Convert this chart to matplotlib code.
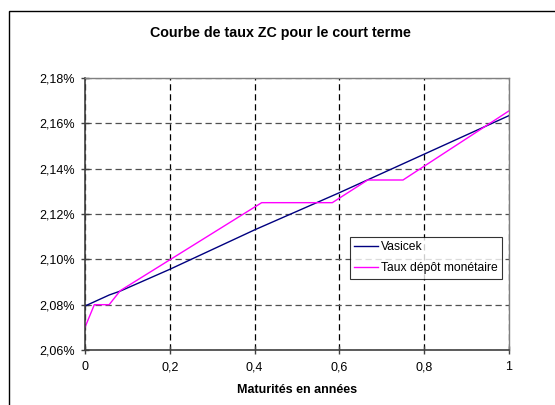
import matplotlib
matplotlib.use("Agg")
import matplotlib.pyplot as plt
from matplotlib.patches import Rectangle
from matplotlib.ticker import FuncFormatter

plt.rcParams['font.family'] = ['Liberation Sans', 'DejaVu Sans']

# Vasicek zero-coupon curve (maturity in years, rate in %)
vasicek_t = [0.0, 0.0575, 0.0833, 0.2, 0.4, 0.6, 0.8, 1.0]
vasicek_r = [2.0794, 2.0843, 2.0860, 2.0956, 2.1130, 2.1294, 2.1464, 2.1634]

# Money-market deposit rates
depot_t = [0.0, 0.022, 0.057, 0.0833, 0.4167, 0.5833, 0.6667, 0.75, 1.0]
depot_r = [2.070, 2.080, 2.080, 2.0862, 2.125, 2.125, 2.135, 2.135, 2.1655]

x_ticks = [0, 0.2, 0.4, 0.6, 0.8, 1]
y_ticks = [2.06, 2.08, 2.10, 2.12, 2.14, 2.16, 2.18]

fig = plt.figure(figsize=(5.55, 4.05), dpi=100)
fig.patch.set_facecolor('white')
fig.patches.append(Rectangle((9 / 555, -0.2), 2.0, 0.2 + 1 - 11 / 405,
                             transform=fig.transFigure, fill=False,
                             edgecolor='black', linewidth=1.0))

ax = fig.add_axes([85 / 555, 55 / 405, 424 / 555, 272 / 405])

ax.plot(vasicek_t, vasicek_r, color='#000080', linewidth=1.0, label='Vasicek')
ax.plot(depot_t, depot_r, color='#FF00FF', linewidth=1.0,
        label='Taux dépôt monétaire')

ax.set_xlim(0, 1)
ax.set_ylim(2.06, 2.18)
ax.set_xticks(x_ticks)
ax.set_yticks(y_ticks)
ax.xaxis.set_major_formatter(FuncFormatter(lambda v, p: f"{v:g}".replace('.', ',')))
ax.yaxis.set_major_formatter(FuncFormatter(lambda v, p: f"{v:.2f}%".replace('.', ',')))
ax.tick_params(direction='inout', length=6, width=1, colors='#404040',
               labelcolor='black', labelsize=9)
ax.tick_params(axis='y', pad=4)
ax.tick_params(axis='x', pad=5)

ax.grid(True, axis='y', color='#505050', linestyle=(0, (5, 3)), linewidth=0.9)
ax.grid(True, axis='x', color='black', linestyle=(0, (5, 3)), linewidth=0.9)
ax.set_axisbelow(True)

for side in ('left', 'bottom'):
    ax.spines[side].set_color('#404040')
    ax.spines[side].set_linewidth(1.2)
for side in ('top', 'right'):
    ax.spines[side].set_color('#808080')
    ax.spines[side].set_linewidth(1.0)

fig.text(280 / 555, 1 - 33 / 405, 'Courbe de taux ZC pour le court terme',
         ha='center', va='center', fontsize=10.3, fontweight='bold')
fig.text(297 / 555, 1 - 390 / 405, 'Maturités en années',
         ha='center', va='center', fontsize=9, fontweight='bold')

leg = ax.legend(loc='upper left', bbox_to_anchor=((350 - 85) / 424, (350 - 237) / 272),
                fontsize=8.7, frameon=True, fancybox=False, handlelength=2.0,
                borderpad=0.35, labelspacing=0.75, handletextpad=0.2,
                borderaxespad=0)
leg.get_frame().set_edgecolor('black')
leg.get_frame().set_linewidth(0.8)

fig.savefig('out.png', dpi=100)
